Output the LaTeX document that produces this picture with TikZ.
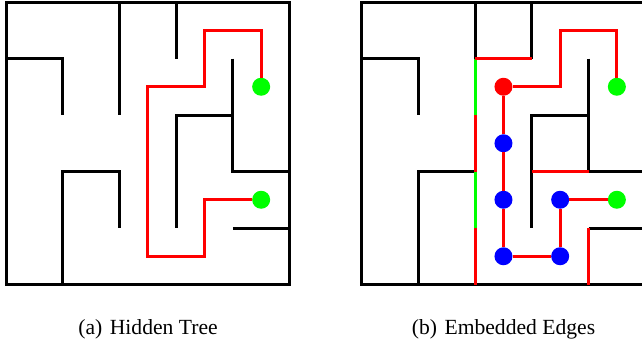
\documentclass[tikz,border=0pt]{standalone}
\usepackage{fontspec}
\setmainfont{Liberation Serif}
\begin{document}
\begin{tikzpicture}[x=1pt,y=-1pt,
  wall/.style={line width=3pt,black,line join=miter},
  redwall/.style={line width=3pt,red},
  greenwall/.style={line width=3pt,green},
  route/.style={line width=3pt,red,line join=miter},
  dot/.style={circle,minimum size=18pt,inner sep=0pt,draw=none},
  caption/.style={anchor=base,inner sep=0pt,font=\fontsize{21.6}{26}\selectfont}]
\useasboundingbox (0,0) rectangle (642,346);
\clip (0,0) rectangle (642,346);
% ---------- left maze ----------
\begin{scope}[shift={(6,2)},x=56.7pt,y=-56.5pt]
  \draw[wall] (0,0) rectangle (5,5);
  \draw[wall] (2,0) -- (2,2);
  \draw[wall] (3,0) -- (3,1);
  \draw[wall] (0,1) -- (1,1) -- (1,2);
  \draw[wall] (4,1) -- (4,3) -- (5,3);
  \draw[wall] (4,2) -- (3,2) -- (3,4);
  \draw[wall] (1,5) -- (1,3) -- (2,3) -- (2,4);
  \draw[wall] (4,4) -- (5,4);
  \node[dot,fill=green] (ga1) at (4.5,1.5) {};
  \node[dot,fill=green] (ga2) at (4.5,3.5) {};
  \draw[route] (ga1) -- (4.5,0.5) -- (3.5,0.5) -- (3.5,1.5) -- (2.5,1.5)
    -- (2.5,4.5) -- (3.5,4.5) -- (3.5,3.5) -- (ga2);
\end{scope}
% ---------- right maze ----------
\begin{scope}[shift={(361.7,2)},x=56.7pt,y=-56.5pt]
  \draw[wall] (0,0) rectangle (5,5);
  \draw[wall] (2,0) -- (2,1);
  \draw[wall] (3,0) -- (3,1);
  \draw[wall] (0,1) -- (1,1) -- (1,2);
  \draw[wall] (4,1) -- (4,3) -- (5,3);
  \draw[wall] (4,2) -- (3,2) -- (3,4);
  \draw[wall] (1,5) -- (1,3) -- (2,3);
  \draw[wall] (4,4) -- (5,4);
  \draw[greenwall] (2,1) -- (2,2);
  \draw[greenwall] (2,3) -- (2,4);
  \draw[redwall] (2,1) -- (3,1);
  \draw[redwall] (2,2) -- (2,3);
  \draw[redwall] (2,4) -- (2,5);
  \draw[redwall] (3,3) -- (4,3);
  \draw[redwall] (4,4) -- (4,5);
  \node[dot,fill=red] (r) at (2.5,1.5) {};
  \node[dot,fill=blue] (b1) at (2.5,2.5) {};
  \node[dot,fill=blue] (b2) at (2.5,3.5) {};
  \node[dot,fill=blue] (b3) at (2.5,4.5) {};
  \node[dot,fill=blue] (b4) at (3.5,4.5) {};
  \node[dot,fill=blue] (b5) at (3.5,3.5) {};
  \node[dot,fill=green] (gb1) at (4.5,1.5) {};
  \node[dot,fill=green] (gb2) at (4.5,3.5) {};
  \draw[route] (gb1) -- (4.5,0.5) -- (3.5,0.5) -- (3.5,1.5) -- (r);
  \draw[route] (r) -- (b1);
  \draw[route] (b1) -- (b2);
  \draw[route] (b2) -- (b3);
  \draw[route] (b3) -- (b4);
  \draw[route] (b4) -- (b5);
  \draw[route] (b5) -- (gb2);
\end{scope}
% ---------- captions ----------
\node[caption] (capa) at (148,334) {(a)\hspace{0.35em}Hidden Tree};
\node[caption] (capb) at (503.5,334) {(b)\hspace{0.35em}Embedded Edges};
\end{tikzpicture}
\end{document}
